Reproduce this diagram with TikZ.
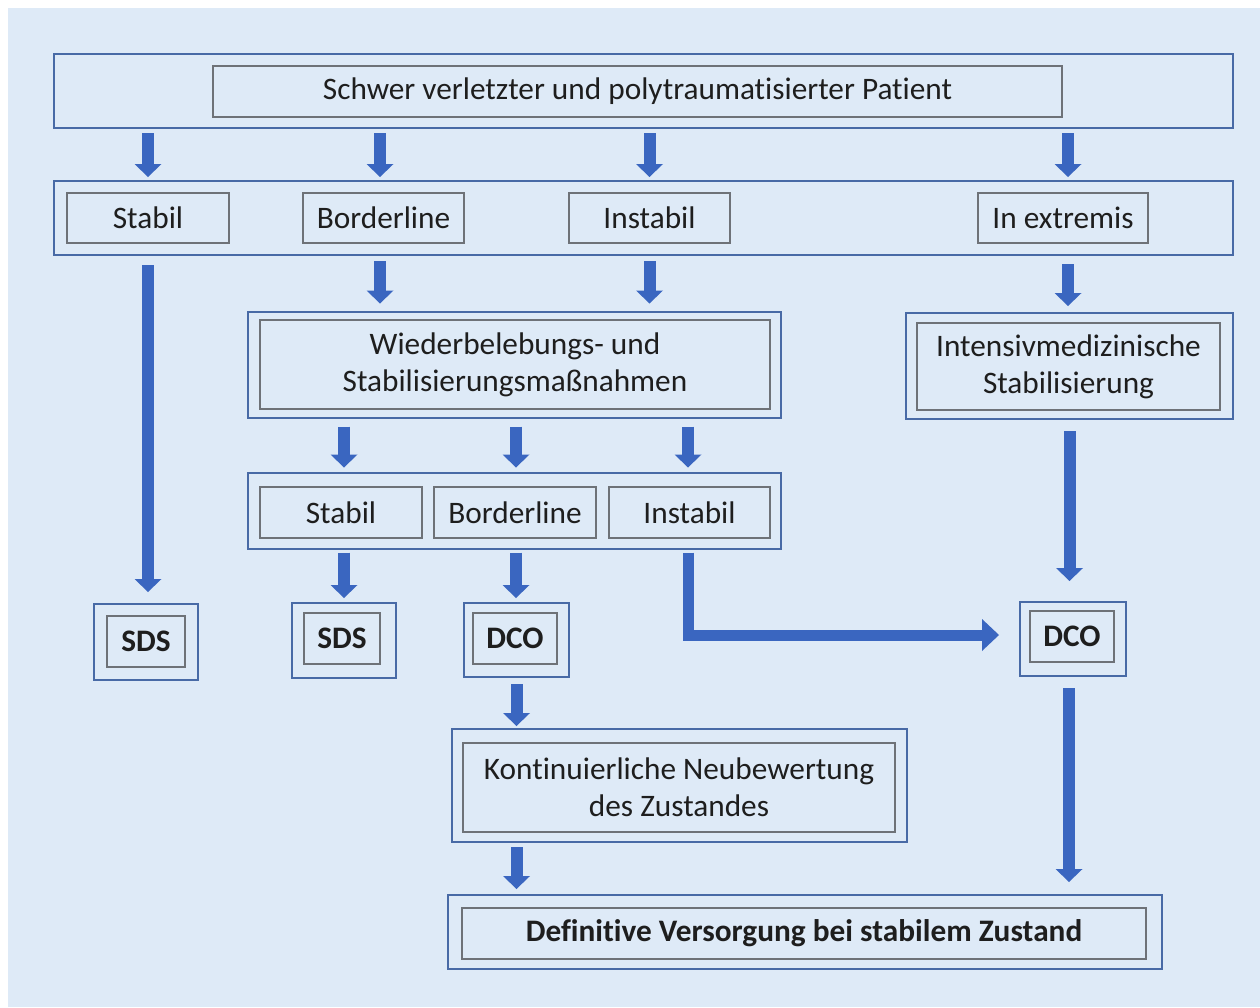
\documentclass[tikz,border=0pt]{standalone}
\usepackage{fontspec}
\setmainfont{Carlito}[Ligatures={NoCommon}]
\usetikzlibrary{arrows.meta}
\definecolor{bgblue}{RGB}{222,234,247}
\definecolor{outerblue}{RGB}{72,106,166}
\definecolor{innergray}{RGB}{110,114,120}
\definecolor{arrowblue}{RGB}{58,102,192}
\definecolor{txt}{RGB}{30,30,30}
\begin{document}
\begin{tikzpicture}[x=1pt,y=-1pt,
  outerbox/.style={draw=outerblue, line width=2pt, inner sep=0pt, anchor=center},
  innerbox/.style={draw=innergray, line width=1.8pt, inner sep=0pt, anchor=center,
    text=txt, font=\fontsize{31.3}{37}\selectfont, align=center},
  boldbox/.style={innerbox, font=\fontsize{31.3}{37}\selectfont\bfseries},
  arr/.style={draw=arrowblue, line width=12pt,
    -{Triangle[width=27pt,length=13pt,line width=0pt]}}]
\useasboundingbox (0,0) rectangle (1260,1007);
\fill[white] (0,0) rectangle (1260,1007);
\fill[bgblue] (8,8) rectangle (1260,1007);

% outer boxes
\node[outerbox, minimum width=1179pt, minimum height=74pt] (topO) at (643.5,91) {};
\node[outerbox, minimum width=1179pt, minimum height=74pt] (rowO) at (643.5,218) {};
\node[outerbox, minimum width=533pt, minimum height=106pt] (wiedO) at (514.5,364.5) {};
\node[outerbox, minimum width=327pt, minimum height=106pt] (intO) at (1069.5,366) {};
\node[outerbox, minimum width=533pt, minimum height=76pt] (row2O) at (514.5,510.5) {};
\node[outerbox, minimum width=104pt, minimum height=76pt] (sdsAO) at (146,642) {};
\node[outerbox, minimum width=104pt, minimum height=75pt] (sdsBO) at (344,640.5) {};
\node[outerbox, minimum width=105pt, minimum height=74pt] (dcoAO) at (516.5,640) {};
\node[outerbox, minimum width=106pt, minimum height=74pt] (dcoBO) at (1073,639) {};
\node[outerbox, minimum width=455pt, minimum height=113pt] (kontO) at (679.5,785.5) {};
\node[outerbox, minimum width=714pt, minimum height=74pt] (finO) at (805,932) {};

% inner boxes
\node[innerbox, minimum width=849pt, minimum height=51pt] (topI) at (637.5,91.5) {Schwer verletzter und polytraumatisierter Patient};
\node[innerbox, minimum width=162pt, minimum height=50pt] (stabil) at (148,218) {Stabil};
\node[innerbox, minimum width=161pt, minimum height=50pt] (border) at (383.5,218) {Borderline};
\node[innerbox, minimum width=161pt, minimum height=50pt] (instabil) at (649.5,218) {Instabil};
\node[innerbox, minimum width=170pt, minimum height=50pt] (extremis) at (1063,218) {In extremis};
\node[innerbox, minimum width=510pt, minimum height=89pt] (wiedI) at (515,364.5) {Wiederbelebungs- und\\Stabilisierungsmaßnahmen};
\node[innerbox, minimum width=303pt, minimum height=87pt] (intI) at (1068.5,366.5) {Intensivmedizinische\\Stabilisierung};
\node[innerbox, minimum width=162pt, minimum height=51pt] (stabilB) at (341,512.5) {Stabil};
\node[innerbox, minimum width=162pt, minimum height=51pt] (borderB) at (515,512.5) {Borderline};
\node[innerbox, minimum width=161pt, minimum height=51pt] (instabilB) at (689.5,512.5) {Instabil};
\node[boldbox, minimum width=78pt, minimum height=51pt] (sdsA) at (146,641.5) {SDS};
\node[boldbox, minimum width=76pt, minimum height=51pt] (sdsB) at (342,638.5) {SDS};
\node[boldbox, minimum width=84pt, minimum height=51pt] (dcoA) at (515,638.5) {DCO};
\node[boldbox, minimum width=84pt, minimum height=51pt] (dcoB) at (1072,636.5) {DCO};
\node[innerbox, minimum width=432pt, minimum height=89pt] (kontI) at (679,787.5) {Kontinuierliche Neubewertung\\des Zustandes};
\node[boldbox, minimum width=684pt, minimum height=51pt] (finI) at (804,933.5) {Definitive Versorgung bei stabilem Zustand};

% arrows
\draw[arr, shorten <=4pt, shorten >=3pt] (stabil.north |- topO.south) -- (stabil.north |- rowO.north);
\draw[arr, shorten <=4pt, shorten >=3pt] ([xshift=-3.5pt]border.north |- topO.south) -- ([xshift=-3.5pt]border.north |- rowO.north);
\draw[arr, shorten <=4pt, shorten >=3pt] (instabil.north |- topO.south) -- (instabil.north |- rowO.north);
\draw[arr, shorten <=4pt, shorten >=3pt] ([xshift=5pt]extremis.north |- topO.south) -- ([xshift=5pt]extremis.north |- rowO.north);

\draw[arr, shorten <=9pt, shorten >=11pt] (stabil.south |- rowO.south) -- (stabil.south |- sdsAO.north);
\draw[arr, shorten <=5pt, shorten >=7pt] ([xshift=-3.5pt]border.south |- rowO.south) -- ([xshift=-3.5pt]border.south |- wiedO.north);
\draw[arr, shorten <=5pt, shorten >=7pt] (instabil.south |- rowO.south) -- (instabil.south |- wiedO.north);
\draw[arr, shorten <=8pt, shorten >=6pt] ([xshift=5pt]extremis.south |- rowO.south) -- ([xshift=5pt]extremis.south |- intO.north);

\draw[arr, shorten <=8pt, shorten >=4pt] ([xshift=3pt]stabilB.north |- wiedO.south) -- ([xshift=3pt]stabilB.north |- row2O.north);
\draw[arr, shorten <=8pt, shorten >=4pt] ([xshift=1pt]borderB.north |- wiedO.south) -- ([xshift=1pt]borderB.north |- row2O.north);
\draw[arr, shorten <=8pt, shorten >=4pt] ([xshift=-1.5pt]instabilB.north |- wiedO.south) -- ([xshift=-1.5pt]instabilB.north |- row2O.north);

\draw[arr, shorten <=11pt, shorten >=20pt] (intO.south) -- (intO.south |- dcoBO.north);

\draw[arr, shorten <=3pt, shorten >=4pt] ([xshift=3pt]stabilB.south |- row2O.south) -- ([xshift=3pt]stabilB.south |- sdsBO.north);
\draw[arr, shorten <=3pt, shorten >=4pt] ([xshift=1pt]borderB.south |- row2O.south) -- ([xshift=1pt]borderB.south |- dcoAO.north);
\draw[arr, line width=11pt, -{Triangle[width=32pt,length=17pt,line width=0pt]}, shorten <=3pt, shorten >=20pt]
  ([xshift=-1.5pt]instabilB.south |- row2O.south) |- ([yshift=4pt]dcoBO.west);

\draw[arr, shorten <=6pt, shorten >=2pt] (dcoAO.south) -- (dcoAO.south |- kontO.north);
\draw[arr, shorten <=4pt, shorten >=5pt] (dcoAO.south |- kontO.south) -- (dcoAO.south |- finO.north);
\draw[arr, shorten <=11pt, shorten >=12pt] ([xshift=-4pt]dcoBO.south) -- ([xshift=-4pt]dcoBO.south |- finO.north);
\end{tikzpicture}
\end{document}
